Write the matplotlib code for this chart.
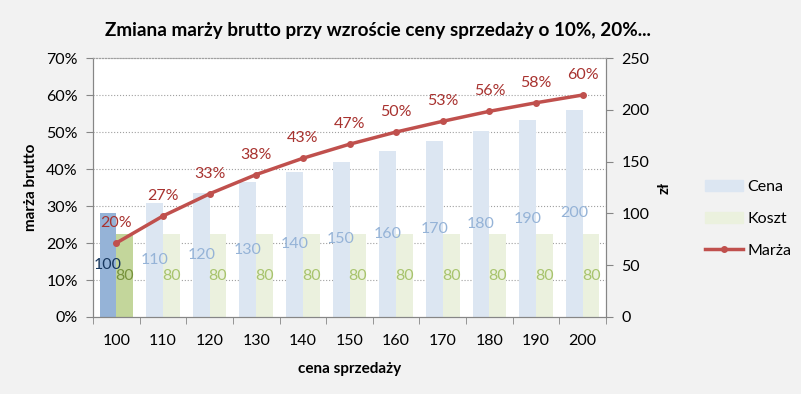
import matplotlib.pyplot as plt
import numpy as np
from matplotlib.ticker import FixedLocator, PercentFormatter
from matplotlib.patches import Patch
from matplotlib.lines import Line2D

plt.rcParams['font.family'] = ['Lato', 'DejaVu Sans']

ceny = [100, 110, 120, 130, 140, 150, 160, 170, 180, 190, 200]
koszt = [80, 80, 80, 80, 80, 80, 80, 80, 80, 80, 80]
marza = [0.20, 0.273, 0.333, 0.385, 0.429, 0.467, 0.50, 0.529, 0.556, 0.579, 0.60]
marza_etykiety = ['20%', '27%', '33%', '38%', '43%', '47%', '50%', '53%', '56%', '58%', '60%']

tlo = '#f2f2f2'
fig = plt.figure(figsize=(8.01, 3.94), dpi=100, facecolor=tlo)
axr = fig.add_axes([93 / 801, 1 - 317 / 394, 513 / 801, 259 / 394])
ax = axr.twinx()
ax.set_zorder(axr.get_zorder() + 1)
ax.patch.set_visible(False)
axr.set_facecolor('white')

x = np.arange(len(ceny))
w = 0.36
kol_cena = ['#95b3d7'] + ['#dce6f2'] * (len(ceny) - 1)
kol_koszt = ['#c3d69b'] + ['#ebf1de'] * (len(ceny) - 1)
axr.bar(x - w / 2, ceny, w, color=kol_cena)
axr.bar(x + w / 2, koszt, w, color=kol_koszt)

for i in range(len(ceny)):
    axr.text(x[i] - w / 2, ceny[i] / 2, str(ceny[i]), ha='center', va='center', fontsize=11.5,
             color='#17375e' if i == 0 else '#95b3d7')
    axr.text(x[i] + w / 2, koszt[i] / 2, str(koszt[i]), ha='center', va='center', fontsize=11.5,
             color='#77933c' if i == 0 else '#a8c46e')

axr.set_ylim(0, 250)
axr.set_xlim(-0.5, len(ceny) - 0.5)
axr.yaxis.tick_right()
axr.set_yticks([0, 50, 100, 150, 200, 250])
axr.yaxis.set_minor_locator(FixedLocator(np.arange(1, 8) * 250 / 7))
axr.grid(which='minor', axis='y', ls=':', color='#a0a0a0', lw=0.8)
axr.set_axisbelow(True)
axr.tick_params(axis='y', which='minor', length=0)
axr.set_ylabel('zł', fontsize=11, fontweight='bold', rotation=90, labelpad=6)
axr.yaxis.set_label_position('right')

ax.plot(x, marza, color='#c0504d', lw=2.5, marker='o', ms=4)
for i in range(len(marza)):
    ax.annotate(marza_etykiety[i], (x[i], marza[i]), xytext=(0, 20), textcoords='offset pixels',
                ha='center', va='center', fontsize=11.5, color='#a8322f')
ax.set_ylim(0, 0.7)
ax.set_yticks(np.arange(0, 0.71, 0.1))
ax.yaxis.set_major_formatter(PercentFormatter(1.0, decimals=0))
ax.yaxis.tick_left()
ax.yaxis.set_label_position('left')
ax.set_ylabel('marża brutto', fontsize=11, fontweight='bold', labelpad=6)

axr.set_xticks(x)
axr.set_xticklabels([str(c) for c in ceny])
axr.set_xticks(np.arange(-0.5, len(ceny), 1), minor=True)
axr.tick_params(axis='x', which='major', length=0, pad=12)
axr.tick_params(axis='x', which='minor', length=5, color='#868686')
axr.set_xlabel('cena sprzedaży', fontsize=11, fontweight='bold', labelpad=10)

for a in (ax, axr):
    a.tick_params(axis='y', which='major', length=5, color='#868686', labelsize=11.5, pad=6)
    a.tick_params(axis='x', labelsize=11.5)
    for s in a.spines.values():
        s.set_color('#868686')
    a.spines['top'].set_linestyle(':')
    a.spines['top'].set_color('#a0a0a0')

fig.suptitle('Zmiana marży brutto przy wzroście ceny sprzedaży o 10%, 20%...', x=0.472, y=0.945,
             fontsize=13.6, fontweight='bold')

uchwyty = [Patch(color='#dce6f2', label='Cena'), Patch(color='#ebf1de', label='Koszt'),
           Line2D([], [], color='#c0504d', lw=2.5, marker='o', ms=4, label='Marża')]
fig.legend(handles=uchwyty, loc='center left', bbox_to_anchor=(0.862, 0.445), frameon=False,
           fontsize=11.5, labelspacing=1.1, handlelength=2.4, handletextpad=0.25)

fig.savefig('out.png', dpi=100, facecolor=tlo)
